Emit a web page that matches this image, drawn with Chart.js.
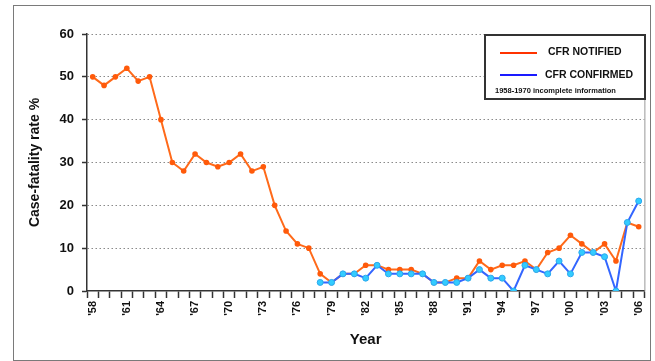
<!DOCTYPE html>
<html>
<head>
<meta charset="utf-8">
<script src="https://cdn.jsdelivr.net/npm/chart.js@4"></script>
<style>
  html, body { margin: 0; padding: 0; background: #fff; }
  #wrap { position: relative; width: 655px; height: 361px; }
</style>
</head>
<body>
<div id="wrap"><canvas id="cfrChart" width="655" height="361"></canvas></div>
<script>
// years 1958-2006
const years = [];
for (let y = 1958; y <= 2006; y++) years.push(y);

// case-fatality rate, notified cases (%)
const cfrNotified = [
  50, 48, 50, 52, 49, 50, 40, 30, 28, 32,
  30, 29, 30, 32, 28, 29, 20, 14, 11, 10,
  4, 2, 4, 4, 6, 6, 5, 5, 5, 4,
  2, 2, 3, 3, 7, 5, 6, 6, 7, 5,
  9, 10, 13, 11, 9, 11, 7, 16, 15
];

// case-fatality rate, confirmed cases (%), from 1978
const cfrConfirmed = [
  null, null, null, null, null, null, null, null, null, null,
  null, null, null, null, null, null, null, null, null, null,
  2, 2, 4, 4, 3, 6, 4, 4, 4, 4,
  2, 2, 2, 3, 5, 3, 3, 0, 6, 5,
  4, 7, 4, 9, 9, 8, 0, 16, 21
];

const yTicks = [0, 10, 20, 30, 40, 50, 60];
const legendItems = ["CFR NOTIFIED", "CFR CONFIRMED"];
const legendNote = "1958-1970 incomplete information";

const fontFam = "'Liberation Sans', Arial, sans-serif";

// frame, right border of plot and the legend box
const decorPlugin = {
  id: "decor",
  beforeDraw(chart) {
    const ctx = chart.ctx;
    ctx.save();
    ctx.strokeStyle = "#7a7a7a";
    ctx.lineWidth = 1;
    ctx.strokeRect(13.5, 5.5, 637, 355);
    ctx.restore();
  },
  afterDraw(chart) {
    const ctx = chart.ctx;
    const a = chart.chartArea;
    ctx.save();
    ctx.strokeStyle = "#999";
    ctx.lineWidth = 1;
    ctx.beginPath();
    ctx.moveTo(a.right + 0.5, a.top);
    ctx.lineTo(a.right + 0.5, a.bottom);
    ctx.stroke();

    // legend
    ctx.fillStyle = "#fff";
    ctx.fillRect(485, 35, 160, 64);
    ctx.strokeStyle = "#333";
    ctx.lineWidth = 2;
    ctx.strokeRect(485, 35, 160, 64);

    ctx.lineWidth = 2;
    ctx.strokeStyle = "#ff3300";
    ctx.beginPath(); ctx.moveTo(500, 53); ctx.lineTo(537, 53); ctx.stroke();
    ctx.strokeStyle = "#1a1aff";
    ctx.beginPath(); ctx.moveTo(500, 75); ctx.lineTo(537, 75); ctx.stroke();

    ctx.fillStyle = "#111";
    ctx.textBaseline = "middle";
    ctx.textAlign = "left";
    ctx.font = "bold 10.5px " + fontFam;
    ctx.fillText(legendItems[0], 548, 52);
    ctx.fillText(legendItems[1], 545, 75);
    ctx.font = "bold 7.5px " + fontFam;
    ctx.fillText(legendNote, 495, 91);
    ctx.restore();
  }
};

const ctx = document.getElementById("cfrChart").getContext("2d");
new Chart(ctx, {
  type: "line",
  data: {
    labels: years,
    datasets: [
      {
        label: legendItems[1],
        data: cfrConfirmed,
        borderColor: "#3366ff",
        borderWidth: 2,
        pointRadius: 3,
        pointBackgroundColor: "#33ccff",
        pointBorderColor: "#2aa8ee",
        pointBorderWidth: 1,
        tension: 0,
        spanGaps: false,
      },
      {
        label: legendItems[0],
        data: cfrNotified,
        borderColor: "#ff6a1a",
        borderWidth: 2,
        pointRadius: 2.8,
        pointBackgroundColor: "#ff5a0a",
        pointBorderColor: "#ff5a0a",
        pointBorderWidth: 0,
        tension: 0,
      },
    ],
  },
  options: {
    responsive: false,
    animation: false,
    events: [],
    layout: { padding: { left: 13, top: 34, right: 10, bottom: 0 } },
    plugins: {
      legend: { display: false },
      tooltip: { enabled: false },
    },
    scales: {
      x: {
        type: "category",
        offset: true,
        afterFit: function (scale) {
          scale.height = 70;
        },
        grid: {
          offset: true,
          drawOnChartArea: false,
          drawTicks: true,
          tickLength: 7,
          tickColor: "#333",
          tickWidth: 1.5,
        },
        border: { display: true, color: "#333", width: 1.5 },
        ticks: {
          autoSkip: false,
          minRotation: 90,
          maxRotation: 90,
          padding: 3,
          color: "#111",
          font: { family: fontFam, size: 11, weight: "bold" },
          callback: function (value, index) {
            const yr = years[index];
            return (yr - 1958) % 3 === 0 ? "'" + String(yr).slice(2) : "";
          },
        },
        title: {
          display: true,
          text: "Year",
          color: "#111",
          font: { family: fontFam, size: 15, weight: "bold" },
          padding: { top: 0, bottom: 12 },
        },
      },
      y: {
        min: 0,
        max: 60,
        afterFit: function (scale) {
          scale.width = 74;
        },
        afterBuildTicks: function (scale) {
          scale.ticks = yTicks.map((v) => ({ value: v }));
        },
        grid: {
          color: function (c) {
            return c.tick && c.tick.value === 0 ? "rgba(0,0,0,0)" : "#8a8a8a";
          },
          lineWidth: 1,
          drawTicks: true,
          tickLength: 5,
          tickColor: "#333",
          tickWidth: 1.5,
        },
        border: { display: true, color: "#333", width: 1.5, dash: [1.5, 2.5] },
        ticks: {
          padding: 8,
          color: "#111",
          font: { family: fontFam, size: 13, weight: "bold" },
        },
        title: {
          display: true,
          text: "Case-fatality rate %",
          color: "#111",
          font: { family: fontFam, size: 14, weight: "bold" },
          padding: { top: 14, bottom: 0 },
        },
      },
    },
  },
  plugins: [decorPlugin],
});
</script>
</body>
</html>
